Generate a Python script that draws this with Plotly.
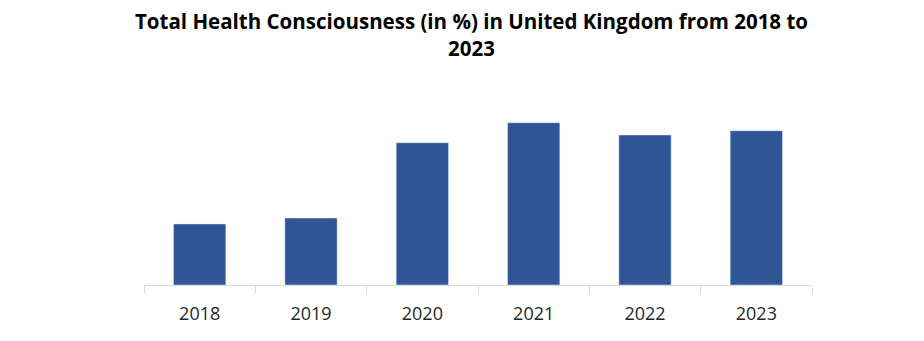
import plotly.graph_objects as go

years = ["2018", "2019", "2020", "2021", "2022", "2023"]
values = [33.0, 36.2, 76.9, 87.7, 81.1, 83.4]
title_text = "<b>Total Health Consciousness (in %) in United Kingdom from 2018 to<br>2023</b>"

fig = go.Figure(go.Bar(x=years, y=values, marker_color="#2F5597", width=0.47))

fig.update_layout(
    width=924, height=341,
    margin=dict(l=144, r=112, t=100, b=56),
    paper_bgcolor="white", plot_bgcolor="white",
    showlegend=False,
    bargap=0.53,
    annotations=[dict(
        text=title_text, xref="paper", yref="paper",
        x=(471 - 144) / 668, y=(285 - 5) / 185,
        xanchor="center", yanchor="top", showarrow=False,
        font=dict(family="Open Sans", size=20.5, color="black"),
        align="center",
    )],
)
fig.update_xaxes(
    type="category", showline=True, linecolor="#D9D9D9", linewidth=1,
    ticks="outside", tickson="boundaries", ticklen=8, tickcolor="#D9D9D9",
    tickfont=dict(family="Open Sans", size=18, color="#262626"),
    ticklabelstandoff=12,
    showgrid=False,
)
fig.update_yaxes(range=[0, 100], visible=False, showgrid=False)

fig.write_html("out.html")
